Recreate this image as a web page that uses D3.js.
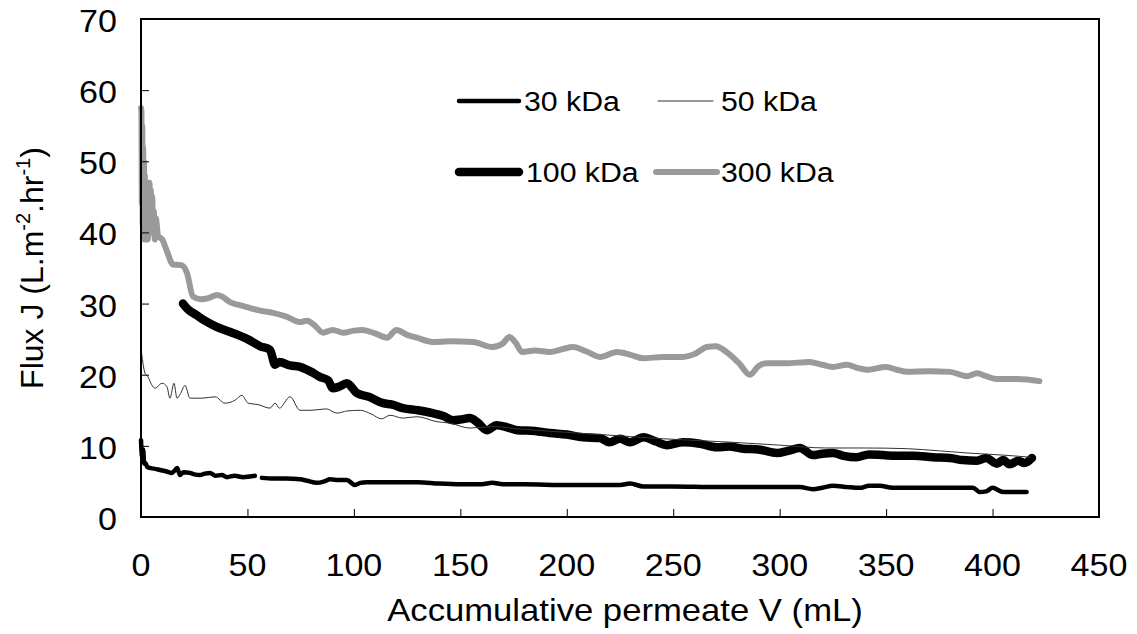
<!DOCTYPE html>
<html><head><meta charset="utf-8">
<script src="https://cdn.jsdelivr.net/npm/d3@7"></script>
<style>body{margin:0;background:#fff}svg{display:block}text{font-family:"Liberation Sans",Arial,sans-serif;fill:#000}</style>
</head><body><svg id="c" width="1137" height="634"></svg>
<script>
const xTicks = [0,50,100,150,200,250,300,350,400,450];
const yTicks = [0,10,20,30,40,50,60,70];
const seriesNames = ["30 kDa","50 kDa","100 kDa","300 kDa"];

const s30 = [[0,10.8],[0.5,8.5],[1,9.5],[1.5,7.5],[2,7.6],[3,7.0],[4,6.9],[6,6.8],[9,6.6],[12,6.4],[14.5,6.2],[16,6.6],[17,6.9],[18.3,5.9],[20,6.3],[23,6.2],[25,6.0],[27.7,5.9],[30,6.1],[32.4,6.2],[35,5.8],[38,5.9],[40.4,5.6],[44,5.8],[48,5.6],[51,5.7],[53.5,5.8],null,[56.8,5.5],[62,5.4],[68,5.4],[74.7,5.3],[78,5.1],[82.6,4.8],[86,5.0],[88.8,5.3],[93,5.2],[96.7,5.2],[100.5,4.5],[103,4.8],[106,4.9],[115,4.9],[121.7,4.9],[130,4.9],[140,4.7],[150,4.6],[160,4.6],[165,4.8],[170,4.6],[180,4.6],[200,4.5],[215.6,4.5],[225,4.5],[229.7,4.7],[236,4.3],[250,4.3],[270,4.2],[290,4.2],[309.5,4.2],[315.6,3.9],[320,4.1],[325,4.4],[332,4.2],[337.7,4.1],[342,4.4],[347,4.4],[353,4.1],[370,4.1],[390.8,4.1],[394,3.5],[397,3.6],[400,4.1],[405,3.5],[410,3.5],[416,3.5]];

const s50 = [[0.3,23],[1.9,20.2],[3.3,19.7],[5,18.6],[6.6,18.1],[9.9,18.8],[12.2,18.3],[13.6,16.7],[15.5,18.8],[16.9,16.7],[18.3,17.2],[20.7,18.5],[23,16.7],[28.7,16.7],[34.8,16.9],[39.5,16.0],[44.1,16.4],[47.4,17.1],[50.3,16.0],[55,15.8],[60.6,15.3],[63,16.0],[65,15.3],[70,16.9],[74.7,15.0],[80,15.0],[87,15.2],[92,14.6],[96.7,14.9],[103,15.0],[108,14.5],[113,13.8],[117,14.3],[123,13.9],[129.6,14.1],[139,13.4],[145,13.2],[154.5,12.5],[165,12.7],[180,12.3],[200,11.9],[215,11.6],[230,11.3],[245,11.0],[258,10.8],[278,10.5],[300,10.1],[322,9.7],[340,9.7],[360,9.6],[375,9.3],[388,9.0],[405,8.7],[418,8.4]];

const s100 = [[19.7,30.0],[22,29.2],[26,28.4],[30,27.6],[35,26.8],[42,26.0],[50,25.0],[56,24.0],[60.6,23.5],[63,21.4],[65,21.8],[70,21.3],[74.7,21.1],[80,20.4],[84,19.7],[88,19.2],[90,18.1],[93,18.3],[96.7,18.8],[101.5,17.4],[107,16.9],[113.7,16.0],[118,15.8],[123,15.3],[130,15.0],[137,14.6],[142,14.2],[146.5,13.6],[150,13.7],[154.5,13.9],[158,13.3],[162.5,12.2],[167,12.9],[172,12.6],[176.6,12.2],[185,12.1],[192,11.8],[200,11.6],[207.6,11.2],[215.6,11.1],[220,10.5],[225,11.0],[229.7,10.5],[236,11.2],[242,10.6],[247,10.1],[254.6,10.5],[262.6,10.3],[270.5,9.8],[276,9.9],[282.8,9.6],[290,9.5],[298.7,9.0],[304,9.3],[309.5,9.7],[315.6,8.7],[320,8.9],[325,9.0],[330,8.6],[336,8.4],[342,8.8],[348.5,8.7],[355,8.6],[363,8.6],[372,8.4],[380,8.3],[386,8.0],[392.6,7.9],[397,8.3],[402,7.5],[405,8.0],[408,7.4],[412,7.9],[415,7.6],[418.5,8.3]];

const s300 = [[0,57.5],[0.2,57.0],[0.4,44],[0.6,55],[0.8,41],[1,52],[1.2,40],[1.4,50],[1.6,39],[1.8,48],[2,40],[2.2,47],[2.4,39],[2.6,46],[2.8,40],[3,45],[3.2,39],[3.5,44],[3.8,40],[4,47],[4.3,41],[4.6,46],[5,40],[5.3,45],[5.6,40],[6,43],[6.5,39],[7,42],[8,39.5],[10,39],[12,37.5],[15,35.5],[19,35.4],[21.6,34.3],[24.4,31.0],[28,30.6],[32,30.8],[35.7,31.2],[38,31.0],[41.8,30.2],[46,29.8],[51,29.4],[56,29.0],[62,28.7],[68,28.2],[74.7,27.4],[78,27.6],[82,26.8],[85.5,25.9],[90,26.3],[95,25.9],[100,26.2],[104,26.3],[110,25.8],[115.5,25.2],[120,26.3],[125,25.6],[129.6,25.2],[137,24.6],[145,24.7],[156,24.6],[165,23.9],[170,24.4],[173,25.3],[176,24.5],[179,23.2],[185,23.4],[192,23.2],[198,23.6],[203,23.9],[209,23.3],[215.6,22.5],[223.6,23.2],[230,22.8],[236,22.3],[245,22.5],[254.6,22.5],[260,22.9],[265.8,23.9],[270,24.0],[275,23.2],[281,21.6],[286,20.0],[290,21.2],[294,21.6],[303,21.6],[314,21.8],[320,21.4],[325,21.1],[331.6,21.4],[336,21.0],[341,20.7],[350,21.1],[355,20.7],[360,20.4],[370,20.5],[380,20.4],[388,19.8],[392.7,20.2],[397,19.8],[402,19.4],[412,19.4],[422,19.1]];

const L = 141, R = 1099, T = 19, B = 517;
const SX = 1.1;
const svg = d3.select("#c");
const x = d3.scaleLinear().domain([0,450]).range([L,R]);
const y = d3.scaleLinear().domain([0,70]).range([B,T]);

function txt(g, str, px, py, anchor, size){
  return g.append("text").attr("transform",`translate(${px},${py}) scale(${SX},1)`)
    .attr("text-anchor",anchor).attr("font-size",size).text(str);
}

const styles = [
  {data:s30, color:"#000", w:4.5},
  {data:s50, color:"#333", w:1},
  {data:s100, color:"#000", w:8.5},
  {data:s300, color:"#9a9a9a", w:6}
];
const line = d3.line().defined(d=>d!==null).x(d=>x(d[0])).y(d=>y(d[1])).curve(d3.curveMonotoneX);
[3,2,1,0].forEach(i=>{
  const s = styles[i];
  svg.append("path").datum(s.data).attr("d",line).attr("fill","none")
    .attr("stroke",s.color).attr("stroke-width",s.w)
    .attr("stroke-linejoin","round").attr("stroke-linecap","round");
});

const xa = svg.append("g").attr("transform",`translate(0,${B})`)
  .call(d3.axisBottom(x).tickValues(xTicks).tickSize(-8).tickFormat(""));
const ya = svg.append("g").attr("transform",`translate(${L},0)`)
  .call(d3.axisLeft(y).tickValues(yTicks).tickSize(-8).tickFormat(""));
[xa,ya].forEach(a=>{a.select(".domain").remove(); a.selectAll("line").attr("stroke","#000").attr("stroke-width",1);});
svg.append("rect").attr("x",L).attr("y",T).attr("width",R-L).attr("height",B-T)
  .attr("fill","none").attr("stroke","#000").attr("stroke-width",2);

xTicks.forEach(v=>txt(svg, String(v), x(v), 576, "middle", 31));
yTicks.forEach(v=>txt(svg, String(v), 117, y(v)+13, "end", 31));

txt(svg, "Accumulative permeate V (mL)", 625, 621, "middle", 31.5);
const yt = svg.append("text").attr("transform","translate(43,268) rotate(-90)")
  .attr("text-anchor","middle").attr("font-size",32);
yt.append("tspan").text("Flux J (L.m");
yt.append("tspan").attr("font-size",20).attr("dy",-13).text("-2");
yt.append("tspan").attr("dy",13).text(".hr");
yt.append("tspan").attr("font-size",20).attr("dy",-13).text("-1");
yt.append("tspan").attr("dy",13).text(")");

const leg = [
  {i:0, x1:459, x2:519, y:101, tx:524},
  {i:1, x1:658, x2:713, y:101, tx:721},
  {i:2, x1:459, x2:519, y:172, tx:526},
  {i:3, x1:656, x2:717, y:172, tx:721}
];
leg.forEach(l=>{
  const s = styles[l.i];
  svg.append("line").attr("x1",l.x1).attr("x2",l.x2).attr("y1",l.y).attr("y2",l.y)
    .attr("stroke",s.color).attr("stroke-width",s.w).attr("stroke-linecap","round");
  txt(svg, seriesNames[l.i], l.tx, l.y+10, "start", 27.5);
});
</script></body></html>
